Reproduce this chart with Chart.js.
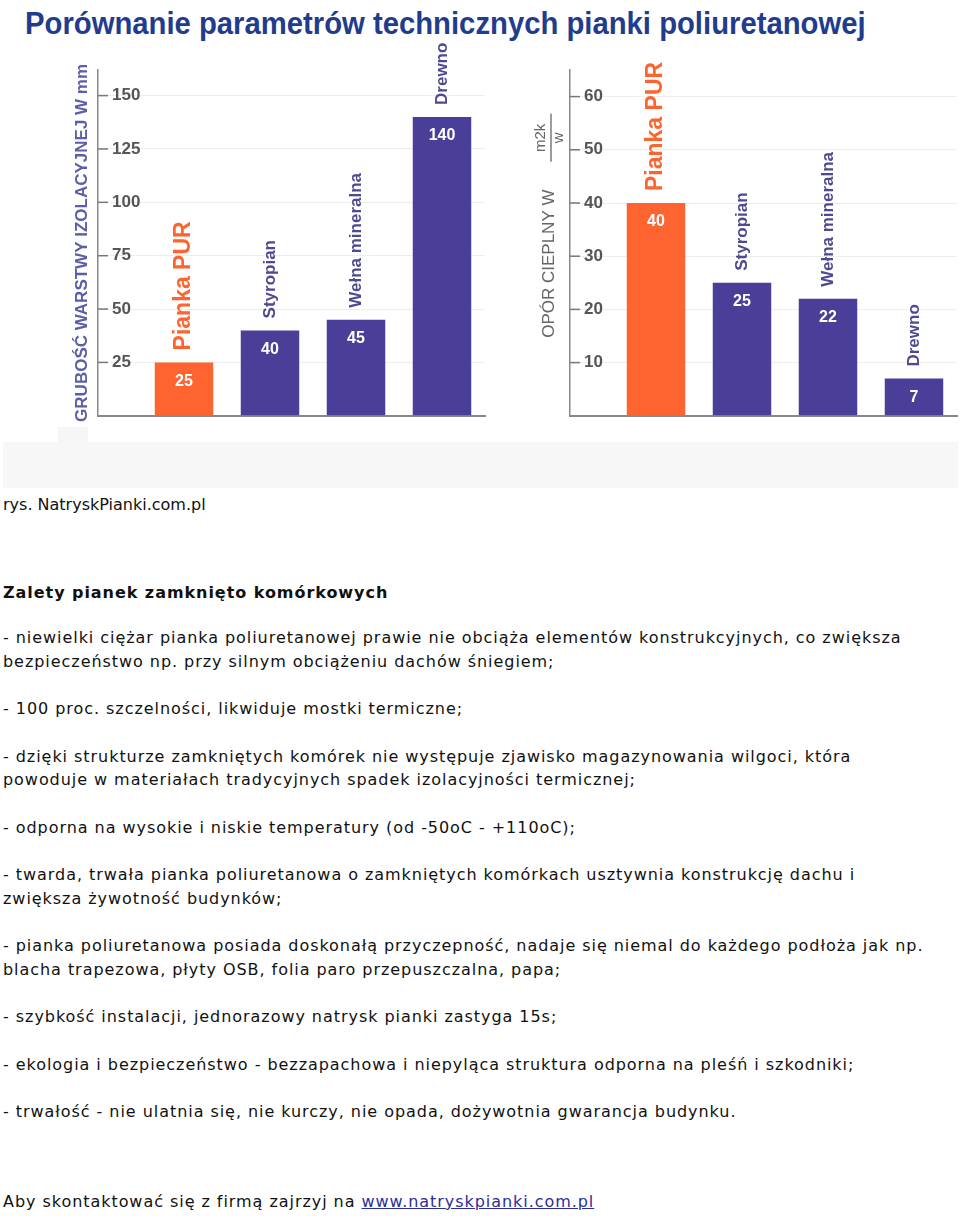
<!DOCTYPE html>
<html lang="pl">
<head>
    <meta charset="UTF-8">
    <title>Porównanie parametrów technicznych pianki poliuretanowej</title>
    <style>
        body {
            margin: 0;
            background: #fff;
            width: 960px;
        }

        .figure {
            position: relative;
            width: 960px;
            height: 488px;
            background: #fff;
            overflow: hidden;
        }

        .figure h1 {
            position: absolute;
            left: 25px;
            top: 8px;
            margin: 0;
            font: bold 31px/31px "Liberation Sans", Arial, sans-serif;
            color: #1f3c8e;
            white-space: nowrap;
            transform-origin: 0 0;
        }

        .figure canvas {
            position: absolute;
            top: 0;
        }

        .strip {
            position: absolute;
            left: 3px;
            top: 442px;
            width: 955px;
            height: 46px;
            background: #f7f7f7;
        }

        .stub {
            position: absolute;
            left: 58px;
            top: 427px;
            width: 30px;
            height: 16px;
            background: #f6f6f6;
        }

        .text {
            font-family: "DejaVu Sans", Verdana, sans-serif;
            font-size: 16px;
            line-height: 23.5px;
            letter-spacing: 0.95px;
            color: #111;
            padding-left: 3px;
            white-space: nowrap;
        }

        .text p {
            margin: 0 0 24px 0;
        }

        .text .caption {
            letter-spacing: 0;
        }

        .text a {
            color: #2b2f9c;
        }
    </style>
</head>
<body>
    <div class="figure">
        <h1 id="title">Porównanie parametrów technicznych pianki poliuretanowej</h1>
        <div class="strip"></div>
        <div class="stub"></div>
        <canvas id="thicknessChart" width="490" height="440" style="left:0"></canvas>
        <canvas id="resistanceChart" width="470" height="440" style="left:490px"></canvas>
    </div>

    <div class="text">
        <p class="caption" style="margin:5px 0 0 0">rys. NatryskPianki.com.pl</p>
        <p style="margin:64px 0 22px 0"><b>Zalety pianek zamknięto komórkowych</b></p>
        <p>- niewielki ciężar pianka poliuretanowej prawie nie obciąża elementów konstrukcyjnych, co zwiększa<br>bezpieczeństwo np. przy silnym obciążeniu dachów śniegiem;</p>
        <p>- 100 proc. szczelności, likwiduje mostki termiczne;</p>
        <p>- dzięki strukturze zamkniętych komórek nie występuje zjawisko magazynowania wilgoci, która<br>powoduje w materiałach tradycyjnych spadek izolacyjności termicznej;</p>
        <p>- odporna na wysokie i niskie temperatury (od -50oC - +110oC);</p>
        <p>- twarda, trwała pianka poliuretanowa o zamkniętych komórkach usztywnia konstrukcję dachu i<br>zwiększa żywotność budynków;</p>
        <p>- pianka poliuretanowa posiada doskonałą przyczepność, nadaje się niemal do każdego podłoża jak np.<br>blacha trapezowa, płyty OSB, folia paro przepuszczalna, papa;</p>
        <p>- szybkość instalacji, jednorazowy natrysk pianki zastyga 15s;</p>
        <p>- ekologia i bezpieczeństwo - bezzapachowa i niepyląca struktura odporna na pleśń i szkodniki;</p>
        <p style="margin-bottom:66px">- trwałość - nie ulatnia się, nie kurczy, nie opada, dożywotnia gwarancja budynku.</p>
        <p>Aby skontaktować się z firmą zajrzyj na <a href="#">www.natryskpianki.com.pl</a></p>
    </div>

    <script src="https://cdn.jsdelivr.net/npm/chart.js"></script>
    <script>
        // data
        const thicknessLabels = ['Pianka PUR', 'Styropian', 'Wełna mineralna', 'Drewno'];
        const thicknessValues = [25, 40, 45, 140];   // mm

        const resistanceLabels = ['Pianka PUR', 'Styropian', 'Wełna mineralna', 'Drewno'];
        const resistanceValues = [40, 25, 22, 7];    // m2k/w

        const ORANGE = '#fd6430';
        const PURPLE = '#4a3f98';
        const NAME_COLOR = '#4f4a8f';
        const FONT = '"Liberation Sans", Arial, sans-serif';

        // squeeze the heading to the width it has in the picture
        const title = document.getElementById('title');
        title.style.transform = 'scaleX(' + (841 / title.offsetWidth) + ')';

        // value inside each bar + rotated name above it
        const barLabels = {
            id: 'barLabels',
            afterDatasetsDraw(chart) {
                const ctx = chart.ctx;
                const ds = chart.data.datasets[0];
                chart.getDatasetMeta(0).data.forEach((bar, i) => {
                    ctx.save();
                    ctx.fillStyle = '#fff';
                    ctx.font = 'bold 16px ' + FONT;
                    ctx.textAlign = 'center';
                    ctx.textBaseline = 'middle';
                    ctx.fillText(ds.data[i].y, bar.x, bar.y + 19);

                    const pur = i === 0;
                    ctx.translate(bar.x, bar.y - 12);
                    ctx.rotate(-Math.PI / 2);
                    ctx.textAlign = 'left';
                    ctx.font = (pur ? 'bold 23px ' : 'bold 17px ') + FONT;
                    ctx.fillStyle = pur ? ORANGE : NAME_COLOR;
                    ctx.fillText(chart.data.labels[i], 0, 0);
                    ctx.restore();
                });
            }
        };

        // short dash next to each y tick (labels sit inside the plot)
        const tickDashes = {
            id: 'tickDashes',
            afterDraw(chart) {
                const ctx = chart.ctx;
                const y = chart.scales.y;
                ctx.save();
                ctx.strokeStyle = '#777';
                ctx.lineWidth = 1.5;
                y.ticks.forEach(t => {
                    if (t.value === 0) return;
                    const py = y.getPixelForValue(t.value);
                    ctx.beginPath();
                    ctx.moveTo(y.right, py);
                    ctx.lineTo(y.right + 10, py);
                    ctx.stroke();
                });
                ctx.restore();
            }
        };

        // "OPÓR CIEPLNY W m2k/w" title with a fraction
        const resistanceTitle = {
            id: 'resistanceTitle',
            afterDraw(chart) {
                const ctx = chart.ctx;
                const area = chart.chartArea;
                ctx.save();
                ctx.translate(area.left - 21, area.bottom - 78);
                ctx.rotate(-Math.PI / 2);
                ctx.fillStyle = '#666';
                ctx.textBaseline = 'middle';
                ctx.textAlign = 'left';
                ctx.font = '17px ' + FONT;
                ctx.fillText('OPÓR CIEPLNY W', 0, 0);

                ctx.textAlign = 'center';
                ctx.font = '15px ' + FONT;
                ctx.fillText('m2k', 200, -8);
                ctx.fillText('w', 200, 10);
                ctx.strokeStyle = '#666';
                ctx.lineWidth = 1.3;
                ctx.beginPath();
                ctx.moveTo(176, 2);
                ctx.lineTo(224, 2);
                ctx.stroke();
                ctx.restore();
            }
        };

        function makeChart(id, labels, values, yMax, step, axisWidth, padRight, yTitle, extraPlugins) {
            return new Chart(document.getElementById(id).getContext('2d'), {
                type: 'bar',
                data: {
                    labels: labels,
                    datasets: [{
                        data: values.map((v, i) => ({ x: i + 1, y: v })),
                        backgroundColor: labels.map((l, i) => i === 0 ? ORANGE : PURPLE),
                        barPercentage: 0.68,
                        categoryPercentage: 1,
                    }]
                },
                options: {
                    responsive: false,
                    animation: false,
                    layout: { padding: { top: 70, bottom: 22, left: 0, right: padRight } },
                    plugins: {
                        legend: { display: false },
                        tooltip: { enabled: false },
                    },
                    scales: {
                        x: {
                            type: 'linear',
                            min: 0,
                            max: 4.5,
                            offset: false,
                            ticks: { display: false, stepSize: 1, includeBounds: false },
                            grid: { display: false },
                            border: { color: '#888', width: 2 },
                            afterFit: s => { s.height = 0; },
                        },
                        y: {
                            min: 0,
                            max: yMax,
                            ticks: {
                                stepSize: step,
                                includeBounds: false,
                                mirror: true,
                                padding: 14,
                                color: '#555',
                                font: { family: FONT, size: 17, weight: 'bold' },
                                callback: v => v === 0 ? '' : v,
                            },
                            grid: { color: '#ededed', drawTicks: false },
                            border: { color: '#888', width: 1.5 },
                            title: yTitle,
                            afterFit: s => { s.width = axisWidth; },
                        }
                    }
                },
                plugins: [barLabels, tickDashes].concat(extraPlugins)
            });
        }

        const thicknessChart = makeChart('thicknessChart', thicknessLabels, thicknessValues, 162, 25, 98, 5, {
            display: true,
            text: 'GRUBOŚĆ WARSTWY IZOLACYJNEJ W mm',
            color: '#5b5ea8',
            font: { family: FONT, size: 17, weight: 'bold' },
            padding: { top: 72, bottom: 0 },
        }, []);

        const resistanceChart = makeChart('resistanceChart', resistanceLabels, resistanceValues, 65, 10, 80, 3,
            { display: false }, [resistanceTitle]);
    </script>
</body>
</html>
